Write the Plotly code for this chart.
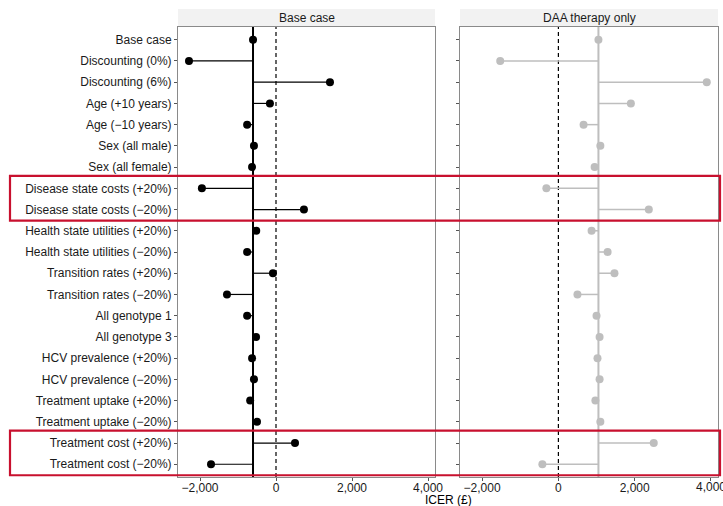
import plotly.graph_objects as go

labels = ["Base case", "Discounting (0%)", "Discounting (6%)", "Age (+10 years)", "Age (\u221210 years)",
          "Sex (all male)", "Sex (all female)", "Disease state costs (+20%)", "Disease state costs (\u221220%)",
          "Health state utilities (+20%)", "Health state utilities (\u221220%)", "Transition rates (+20%)",
          "Transition rates (\u221220%)", "All genotype 1", "All genotype 3", "HCV prevalence (+20%)",
          "HCV prevalence (\u221220%)", "Treatment uptake (+20%)", "Treatment uptake (\u221220%)",
          "Treatment cost (+20%)", "Treatment cost (\u221220%)"]

base_case_icer = [-605, -2290, 1420, -160, -760, -580, -630, -1950, 735, -520, -760, -80, -1290,
                  -760, -525, -630, -580, -680, -500, 500, -1710]
daa_only_icer = [1050, -1525, 3890, 1900, 660, 1100, 950, -315, 2370, 870, 1290, 1470, 500,
                 1000, 1080, 1025, 1080, 970, 1100, 2500, -420]

panels = ["Base case", "DAA therapy only"]
tick_vals = [-2000, 0, 2000, 4000]
tick_text = ["\u22122,000", "0", "2,000", "4,000"]
highlight_rows = [("Disease state costs (+20%)", "Disease state costs (\u221220%)"),
                  ("Treatment cost (+20%)", "Treatment cost (\u221220%)")]

FONT = "Liberation Sans, Arial, sans-serif"
W, H = 723, 506
ML, MR, MT, MB = 178, 5, 9, 29
PW, PH = W - ML - MR, H - MT - MB

def px_x(p):
    return (p - ML) / PW

def px_y(p):
    return (H - MB - p) / PH

fig = go.Figure()
series = [(base_case_icer, "#000000", 2.0, 1.2, "x", "y"),
          (daa_only_icer, "#BEBEBE", 2.0, 1.5, "x2", "y2")]
for vals, col, vw, sw, xa, ya in series:
    ref = vals[0]
    sx, sy = [], []
    for lab, v in zip(labels, vals):
        sx += [ref, v, None]
        sy += [lab, lab, None]
    fig.add_trace(go.Scatter(x=sx, y=sy, mode="lines", line=dict(color=col, width=sw),
                             xaxis=xa, yaxis=ya, hoverinfo="skip", showlegend=False))
    fig.add_trace(go.Scatter(x=vals, y=labels, mode="markers", marker=dict(color=col, size=8),
                             xaxis=xa, yaxis=ya, showlegend=False))
    xr = "x" if xa == "x" else "x2"
    yr = "y domain" if ya == "y" else "y2 domain"
    fig.add_shape(type="line", xref=xr, yref=yr, x0=ref, x1=ref, y0=0, y1=1,
                  line=dict(color=col, width=vw), layer="below")
    fig.add_shape(type="line", xref=xr, yref=yr, x0=0, x1=0, y0=0, y1=1,
                  line=dict(color="#000000", width=1.2, dash="4px,3px"), layer="below")

x_range = [-2579, 4184]
dom1 = [px_x(178), px_x(435)]
dom2 = [px_x(460), px_x(718)]
panel_top = px_y(27)

axis_common = dict(showgrid=False, zeroline=False, showline=True, linecolor="#8a8a8a", linewidth=1,
                   mirror=True, ticks="outside", ticklen=3, tickcolor="#555555", automargin=False,
                   tickfont=dict(family=FONT, size=12, color="#1a1a1a"))
fig.update_layout(
    width=W, height=H, margin=dict(l=ML, r=MR, t=MT, b=MB),
    plot_bgcolor="white", paper_bgcolor="white",
    xaxis=dict(domain=dom1, range=x_range, tickvals=tick_vals, ticktext=tick_text,
               ticklabelstandoff=-3, **axis_common),
    xaxis2=dict(domain=dom2, range=x_range, tickvals=tick_vals, ticktext=tick_text,
                ticklabelstandoff=-3, **axis_common),
    yaxis=dict(domain=[0, panel_top], range=[20.6, -0.6], type="category",
               categoryorder="array", categoryarray=labels, anchor="x", **axis_common),
    yaxis2=dict(domain=[0, panel_top], range=[20.6, -0.6], type="category",
                categoryorder="array", categoryarray=labels, anchor="x2", showticklabels=False,
                **axis_common),
)

# last tick label of right panel (runs off the page edge, as in the reference)
fig.add_annotation(text=tick_text[-1], xref="x2", yref="paper", x=tick_vals[-1], y=px_y(487),
                   showarrow=False, xanchor="center", yanchor="middle", borderpad=0,
                   font=dict(family=FONT, size=12, color="#1a1a1a"))

# facet strips
for name, dom in zip(panels, [dom1, dom2]):
    fig.add_shape(type="rect", xref="paper", yref="paper", x0=dom[0], x1=dom[1],
                  y0=panel_top + 0.5 / PH, y1=1.0, fillcolor="#F2F2F2", line=dict(width=0), layer="below")
    fig.add_annotation(text=name, xref="paper", yref="paper", x=(dom[0] + dom[1]) / 2,
                       y=(panel_top + 1.0) / 2, showarrow=False, xanchor="center", yanchor="middle",
                       font=dict(family=FONT, size=12, color="#1a1a1a"))

# axis title
fig.add_annotation(text="ICER (\u00a3)", xref="paper", yref="paper", x=(dom1[0] + dom2[1]) / 2,
                   y=px_y(499.5), showarrow=False, xanchor="center", yanchor="middle", borderpad=0,
                   font=dict(family=FONT, size=12, color="#000000"))

# highlight boxes
row_px = lambda i: 27 + (i + 0.6) * (450 / 21.2)
for top_lab, bot_lab in highlight_rows:
    i0, i1 = labels.index(top_lab), labels.index(bot_lab)
    y_top = row_px(i0) - 12.5
    y_bot = min(row_px(i1) + 11, 477)
    fig.add_shape(type="rect", xref="paper", yref="paper", x0=px_x(10), x1=px_x(720),
                  y0=px_y(y_bot), y1=px_y(y_top), line=dict(color="#C8102E", width=2.2),
                  fillcolor="rgba(0,0,0,0)", layer="above")

fig.write_html("out.html")
